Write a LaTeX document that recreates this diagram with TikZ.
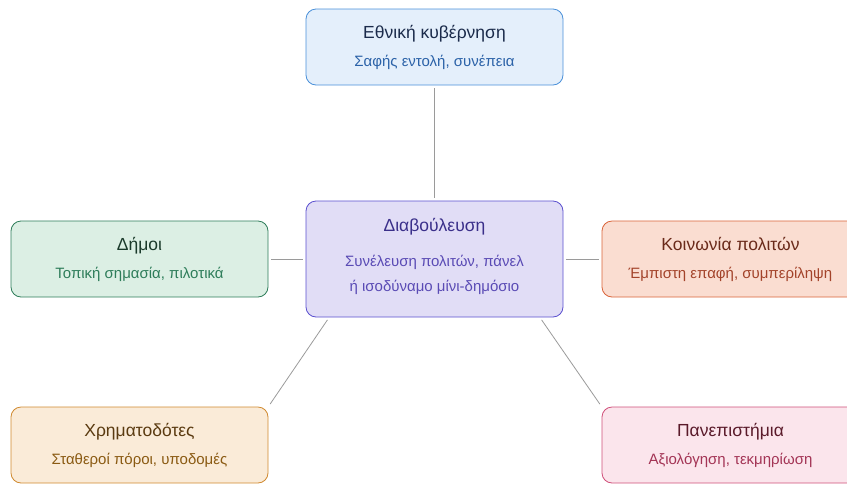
\documentclass[tikz,border=0pt]{standalone}
\usepackage{fontspec}
\setmainfont{Liberation Sans}
\usepackage{tikz}
\usetikzlibrary{positioning}

\definecolor{linegray}{HTML}{9A9A9A}
\definecolor{govfill}{HTML}{E4EFFB}
\definecolor{govdraw}{HTML}{4A90D9}
\definecolor{govtext}{HTML}{1B2B4B}
\definecolor{govsub}{HTML}{2B62A8}
\definecolor{delfill}{HTML}{E1DDF6}
\definecolor{deldraw}{HTML}{5B50CF}
\definecolor{deltext}{HTML}{3A2F8A}
\definecolor{delsub}{HTML}{5A4BB5}
\definecolor{munfill}{HTML}{DCEFE4}
\definecolor{mundraw}{HTML}{2E7D5A}
\definecolor{muntext}{HTML}{1A3A2A}
\definecolor{munsub}{HTML}{2E7D5A}
\definecolor{civfill}{HTML}{FADDD1}
\definecolor{civdraw}{HTML}{D9643A}
\definecolor{civtext}{HTML}{6A2A1A}
\definecolor{civsub}{HTML}{A3432A}
\definecolor{funfill}{HTML}{FAEBD8}
\definecolor{fundraw}{HTML}{D08A30}
\definecolor{funtext}{HTML}{5A3A10}
\definecolor{funsub}{HTML}{8A5A12}
\definecolor{unifill}{HTML}{FBE5EC}
\definecolor{unidraw}{HTML}{D0507A}
\definecolor{unitext}{HTML}{5A1A2A}
\definecolor{unisub}{HTML}{A33455}

\newcommand{\ttl}[2]{{\color{#1}\fontsize{17.5}{18}\selectfont #2}}
\newcommand{\subl}[2]{{\color{#1}\fontsize{15}{18}\selectfont #2}}

\begin{document}
\begin{tikzpicture}[x=1pt,y=-1pt,
  actor/.style 2 args={draw=#1, fill=#2, rounded corners=10pt, line width=0.8pt,
    minimum width=257pt, minimum height=76pt, align=center, inner sep=0pt,
    font=\fontsize{15}{18}\selectfont},
  link/.style={draw=linegray, line width=0.8pt, shorten <=3pt, shorten >=3pt}]
\useasboundingbox (0,0) rectangle (847,483);

\node[actor={deldraw}{delfill}, minimum height=116pt] (delib) at (434.5,259)
  {\ttl{deltext}{Διαβούλευση}\\[17pt]
   \subl{delsub}{Συνέλευση πολιτών, πάνελ}\\[7pt]
   \subl{delsub}{ή ισοδύναμο μίνι-δημόσιο\rule[-8pt]{0pt}{8pt}}};

\node[actor={govdraw}{govfill}] (gov) at (434.5,47)
  {\ttl{govtext}{Εθνική κυβέρνηση}\\[10pt]\subl{govsub}{Σαφής εντολή, συνέπεια}};
\node[actor={mundraw}{munfill}] (mun) at (139.5,259)
  {\ttl{muntext}{Δήμοι}\\[10pt]\subl{munsub}{Τοπική σημασία, πιλοτικά}};
\node[actor={civdraw}{civfill}] (civ) at (730.5,259)
  {\ttl{civtext}{Κοινωνία πολιτών}\\[10pt]\subl{civsub}{Έμπιστη επαφή, συμπερίληψη}};
\node[actor={fundraw}{funfill}] (fund) at (139.5,445)
  {\ttl{funtext}{Χρηματοδότες}\\[10pt]\subl{funsub}{Σταθεροί πόροι, υποδομές}};
\node[actor={unidraw}{unifill}] (uni) at (730.5,445)
  {\ttl{unitext}{Πανεπιστήμια}\\[10pt]\subl{unisub}{Αξιολόγηση, τεκμηρίωση}};

% links to the centre
\draw[link] (gov.south) -- (delib.north);
\draw[link] (mun.east) -- (delib.west);
\draw[link] (civ.west) -- (delib.east);
\draw[link] (delib.209) -- (fund.north east);
\draw[link] (delib.331) -- (uni.north west);
\end{tikzpicture}
\end{document}
